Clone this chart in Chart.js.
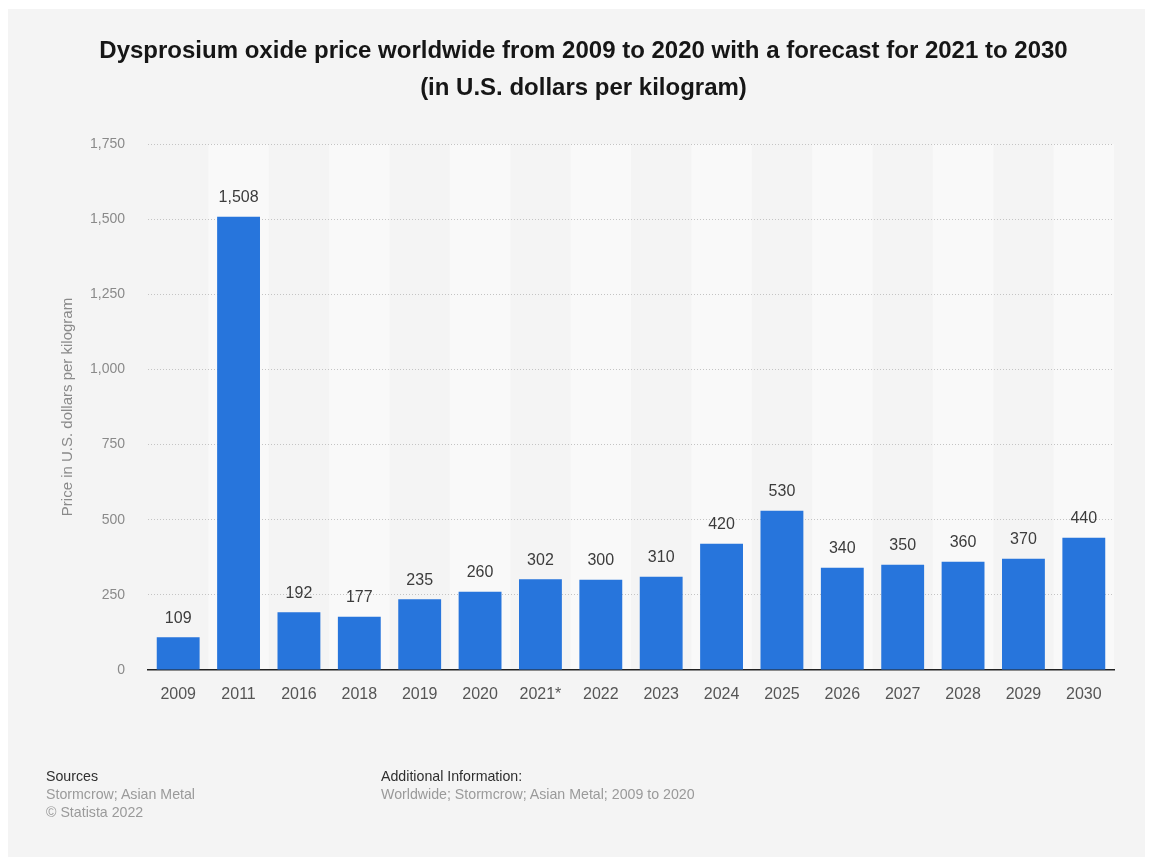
<!DOCTYPE html>
<html>
<head>
<meta charset="utf-8">
<script src="https://cdn.jsdelivr.net/npm/chart.js@4"></script>
<style>
    html, body { margin: 0; padding: 0; background: #ffffff; }
    body { width: 1151px; height: 858px; position: relative; overflow: hidden;
           font-family: "Liberation Sans", Arial, Helvetica, sans-serif; }
    .card { position: absolute; left: 8px; top: 9px; width: 1137px; height: 848px; background: #f4f4f4; }
    .title { position: absolute; left: 7px; width: 1137px; top: 22px; text-align: center;
             font-size: 24px; font-weight: bold; color: #161616; line-height: 37px; }
    #chartBox { position: absolute; left: 0; top: 0; width: 1137px; height: 848px; }
    .foot { position: absolute; top: 758px; font-size: 14.2px; line-height: 18px; color: #9a9a9a; }
    .foot .head { color: #2e2e2e; }
</style>
</head>
<body>
<div class="card">
    <div id="chartBox"><canvas id="priceChart"></canvas></div>
    <div class="title">Dysprosium oxide price worldwide from 2009 to 2020 with a forecast for 2021 to 2030<br>(in U.S. dollars per kilogram)</div>
    <div class="foot" style="left: 38px;">
        <div class="head">Sources</div>
        <div>Stormcrow; Asian Metal</div>
        <div>© Statista 2022</div>
    </div>
    <div class="foot" style="left: 373px;">
        <div class="head">Additional Information:</div>
        <div>Worldwide; Stormcrow; Asian Metal; 2009 to 2020</div>
    </div>
</div>
<script>
const years = ['2009', '2011', '2016', '2018', '2019', '2020', '2021*', '2022',
    '2023', '2024', '2025', '2026', '2027', '2028', '2029', '2030'];
const prices = [109, 1508, 192, 177, 235, 260, 302, 300, 310, 420, 530, 340, 350, 360, 370, 440];
const yTicks = [0, 250, 500, 750, 1000, 1250, 1500, 1750];

const fontFamily = '"Liberation Sans", Arial, Helvetica, sans-serif';

// lighter band behind every second category
const bandPlugin = {
    id: 'bands',
    beforeDraw(chart) {
        const ctx = chart.ctx;
        const area = chart.chartArea;
        const x = chart.scales.x;
        const step = x.width / years.length;
        ctx.save();
        ctx.fillStyle = '#f9f9f9';
        years.forEach((y, i) => {
            if (i % 2 === 1) {
                const cx = x.getPixelForValue(i);
                ctx.fillRect(cx - step / 2, area.top, step, area.bottom - area.top);
            }
        });
        ctx.restore();
    }
};

// value printed above each bar
const valuePlugin = {
    id: 'values',
    afterDatasetsDraw(chart) {
        const ctx = chart.ctx;
        const meta = chart.getDatasetMeta(0);
        ctx.save();
        ctx.font = '16px ' + fontFamily;
        ctx.fillStyle = '#3c3c3c';
        ctx.textAlign = 'center';
        ctx.textBaseline = 'middle';
        meta.data.forEach((bar, i) => {
            ctx.fillText(prices[i].toLocaleString('en-US'), bar.x, bar.y - 19);
        });
        ctx.restore();
    }
};

function initializePriceChart() {
    const canvas = document.getElementById('priceChart');

    const data = {
        labels: years,
        datasets: [{
            data: prices,
            backgroundColor: '#2775dc',
            borderWidth: 0,
            barPercentage: 0.71,
            categoryPercentage: 1.0
        }]
    };

    const options = {
        responsive: true,
        maintainAspectRatio: false,
        animation: false,
        layout: {
            padding: { left: 47, right: 31, top: 135, bottom: 147 }
        },
        plugins: {
            legend: { display: false },
            tooltip: { enabled: false }
        },
        scales: {
            x: {
                grid: { display: false, drawTicks: false },
                border: { display: true, color: '#222222', width: 1.5 },
                ticks: {
                    color: '#555555',
                    padding: 15,
                    font: { size: 16, family: fontFamily }
                },
                afterFit(scale) { scale.height = 40; }
            },
            y: {
                min: 0,
                max: 1750,
                afterBuildTicks(scale) {
                    scale.ticks = yTicks.map(v => ({ value: v }));
                },
                grid: {
                    drawTicks: false,
                    color: ctx => ctx.tick && ctx.tick.value === 0 ? 'rgba(0,0,0,0)' : '#c4c4c4',
                    lineWidth: 1
                },
                border: { display: false, dash: [1, 2] },
                ticks: {
                    color: '#8a8a8a',
                    padding: 23,
                    font: { size: 14, family: fontFamily },
                    callback: v => v.toLocaleString('en-US')
                },
                title: {
                    display: true,
                    text: 'Price in U.S. dollars per kilogram',
                    color: '#8a8a8a',
                    font: { size: 15, family: fontFamily },
                    padding: { top: 4, bottom: 0 }
                },
                afterFit(scale) { scale.width = 93; }
            }
        }
    };

    new Chart(canvas, {
        type: 'bar',
        data: data,
        options: options,
        plugins: [bandPlugin, valuePlugin]
    });
}

window.addEventListener('load', initializePriceChart);
</script>
</body>
</html>
